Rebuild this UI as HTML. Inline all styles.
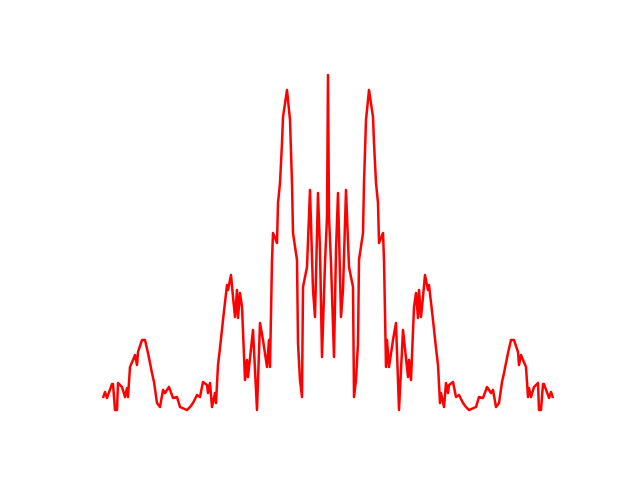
<!DOCTYPE html>
<html><head><meta charset="utf-8"><style>html,body{margin:0;padding:0;background:#fff;width:640px;height:480px;overflow:hidden}</style></head>
<body>
<svg id="chart" width="640" height="480" xmlns="http://www.w3.org/2000/svg"></svg>
<script>
const halfT = [-225,-223,-221,-216,-215,-213,-211,-210,-206,-203,-201,-200,-198,-195,-193,-191,-190,-186,-183,-180,-176,-174,-171,-168,-165,-163,-159,-155,-151,-148,-141,-138,-135,-131,-128,-125,-121,-120,-118,-116,-113,-112,-110,-108,-105,-101,-100,-97,-95,-93,-91,-90,-88,-86,-83,-81,-80,-75,-71,-68,-65,-61,-59,-58,-56,-55,-51,-50,-48,-46,-45,-41,-38,-36,-35,-31,-30,-28,-26,-25,-21,-18,-15,-13,-10,-8,-6,-3,-1,0];
const halfAmp = [12,18,12,26,26,0,0,27,23,13,22,13,43,50,55,45,58,70,70,57,37,28,7,3,20,17,23,12,13,3,0,3,7,15,13,28,25,17,27,3,17,7,45,62,90,125,120,135,113,93,120,92,117,103,30,50,33,80,0,87,70,43,70,43,150,177,167,207,227,267,293,320,290,227,177,150,67,30,13,123,143,220,120,93,217,160,53,147,193,335];
const xScale = t => 328 + t;
const yScale = a => 410 - a;
const svg = document.getElementById('chart');
const pts = [];
for (let i = 0; i < halfT.length; i++) pts.push([halfT[i], halfAmp[i]]);
for (let i = halfT.length - 2; i >= 0; i--) pts.push([-halfT[i], halfAmp[i]]);
const d = pts.map((p, i) => (i ? 'L' : 'M') + xScale(p[0]) + ' ' + yScale(p[1])).join(' ');
const path = document.createElementNS('http://www.w3.org/2000/svg', 'path');
path.setAttribute('d', d);
path.setAttribute('fill', 'none');
path.setAttribute('stroke', '#ff0000');
path.setAttribute('stroke-width', '2.5');
path.setAttribute('stroke-linejoin', 'round');


svg.appendChild(path);
</script>
</body></html>
